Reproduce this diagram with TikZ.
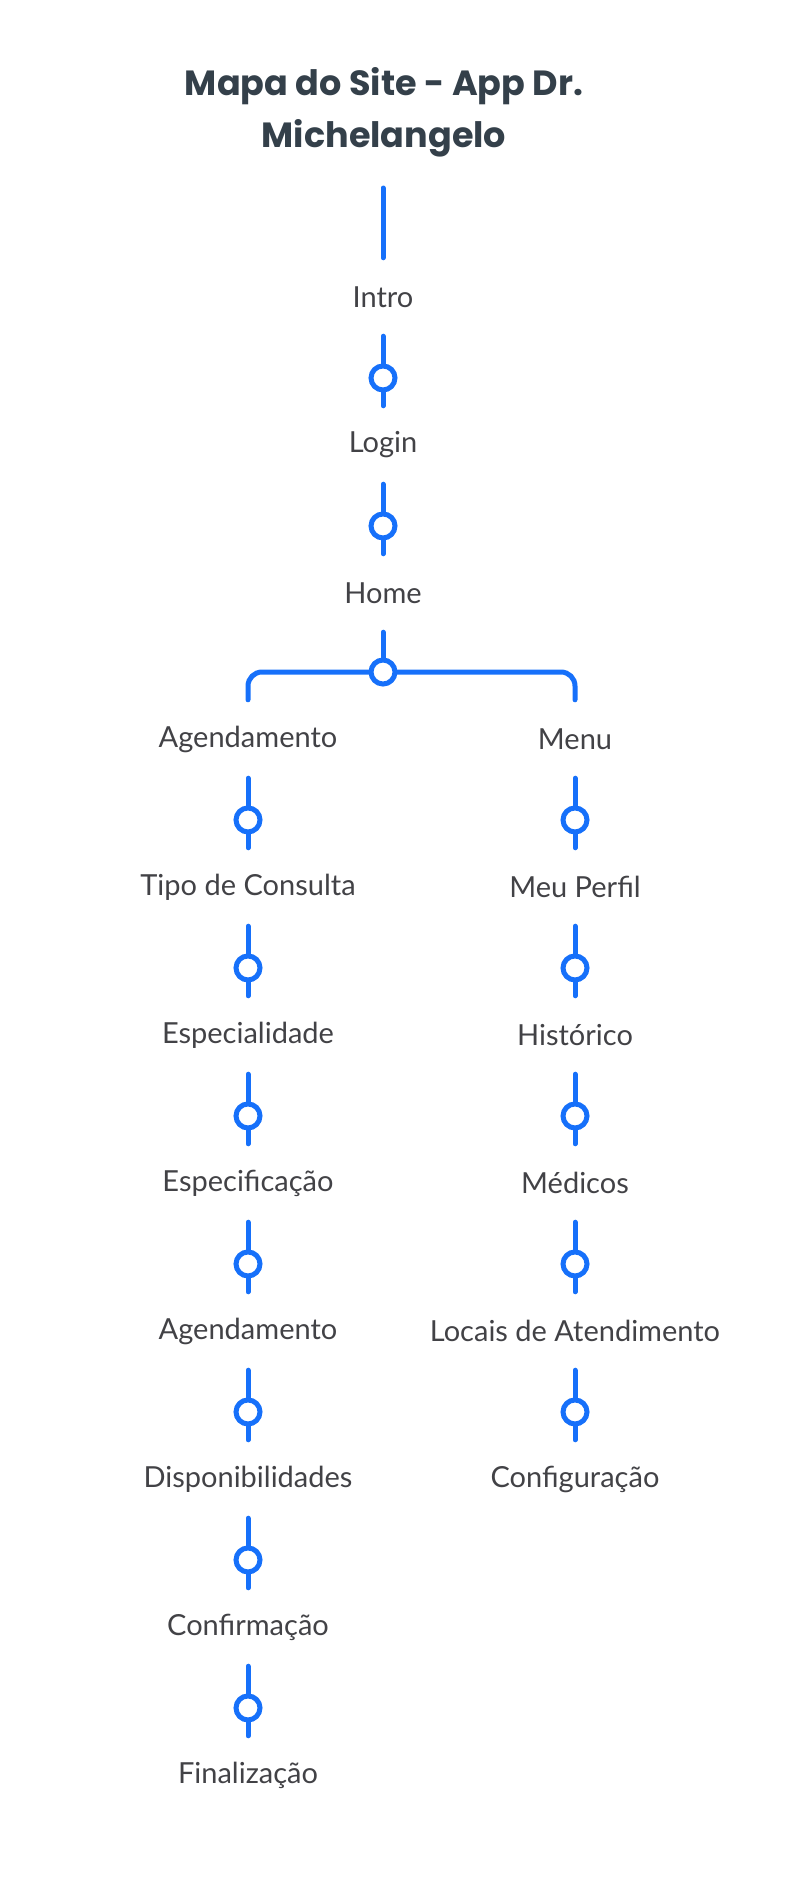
\documentclass[tikz,border=0pt]{standalone}
\usepackage{fontspec}
\setmainfont{Lato}
\newfontfamily\titlefont{Poppins}
\usetikzlibrary{positioning}
\definecolor{linkblue}{RGB}{22,112,250}
\definecolor{labelgray}{RGB}{66,66,70}
\definecolor{titlegray}{RGB}{52,64,74}
\begin{document}
\begin{tikzpicture}[x=1pt, y=-1pt, node distance=148pt]
    \tikzstyle{page} = [minimum height=78pt, inner sep=0pt, text=labelgray, font=\fontsize{29}{34}\selectfont]
    \tikzstyle{link} = [draw=linkblue, line width=5pt, line cap=round]
    \tikzstyle{dot} = [circle, draw=linkblue, line width=5pt, fill=white, minimum size=24pt, inner sep=0pt]
    \useasboundingbox (0,0) rectangle (794,1900);

    % Title
    \node [align=center, text=titlegray, font=\titlefont\bfseries\fontsize{35}{52}\selectfont] (title) at (384,112) {Mapa do Site - App Dr.\\Michelangelo};

    % Main line
    \coordinate (top) at (383,188);
    \node [page] (intro) at (383,297) {Intro};
    \node [page, below of=intro] (login) {Login};
    \node [page, below of=login] (home) {Home};
    \coordinate (fork) at (383,672);

    % Agendamento
    \node [page] (agenda) at (248,739) {Agendamento};
    \node [page, below of=agenda] (tipo) {Tipo de Consulta};
    \node [page, below of=tipo] (espec) {Especialidade};
    \node [page, below of=espec] (especif) {Especificação};
    \node [page, below of=especif] (agenda2) {Agendamento};
    \node [page, below of=agenda2] (dispo) {Disponibilidades};
    \node [page, below of=dispo] (confirm) {Confirmação};
    \node [page, below of=confirm] (final) {Finalização};

    % Menu
    \node [page] (menu) at (575,739) {Menu};
    \node [page, below of=menu] (perfil) {Meu Perfil};
    \node [page, below of=perfil] (hist) {Histórico};
    \node [page, below of=hist] (medicos) {Médicos};
    \node [page, below of=medicos] (locais) {Locais de Atendimento};
    \node [page, below of=locais] (config) {Configuração};

    % Connections
    \draw [link] (top) -- (intro);
    \draw [link] (intro) -- node [dot, pos=0.6] {} (login);
    \draw [link] (login) -- node [dot, pos=0.6] {} (home);
    \draw [link] (home) -- (fork);
    \draw [link, rounded corners=14pt] (fork) -| (agenda);
    \draw [link, rounded corners=14pt] (fork) -| (menu);
    \node [dot] (forkdot) at (fork) {};

    \foreach \a/\b in {agenda/tipo, tipo/espec, espec/especif, especif/agenda2, agenda2/dispo, dispo/confirm, confirm/final, menu/perfil, perfil/hist, hist/medicos, medicos/locais, locais/config}
        \draw [link] (\a) -- node [dot, pos=0.6] {} (\b);
\end{tikzpicture}
\end{document}
